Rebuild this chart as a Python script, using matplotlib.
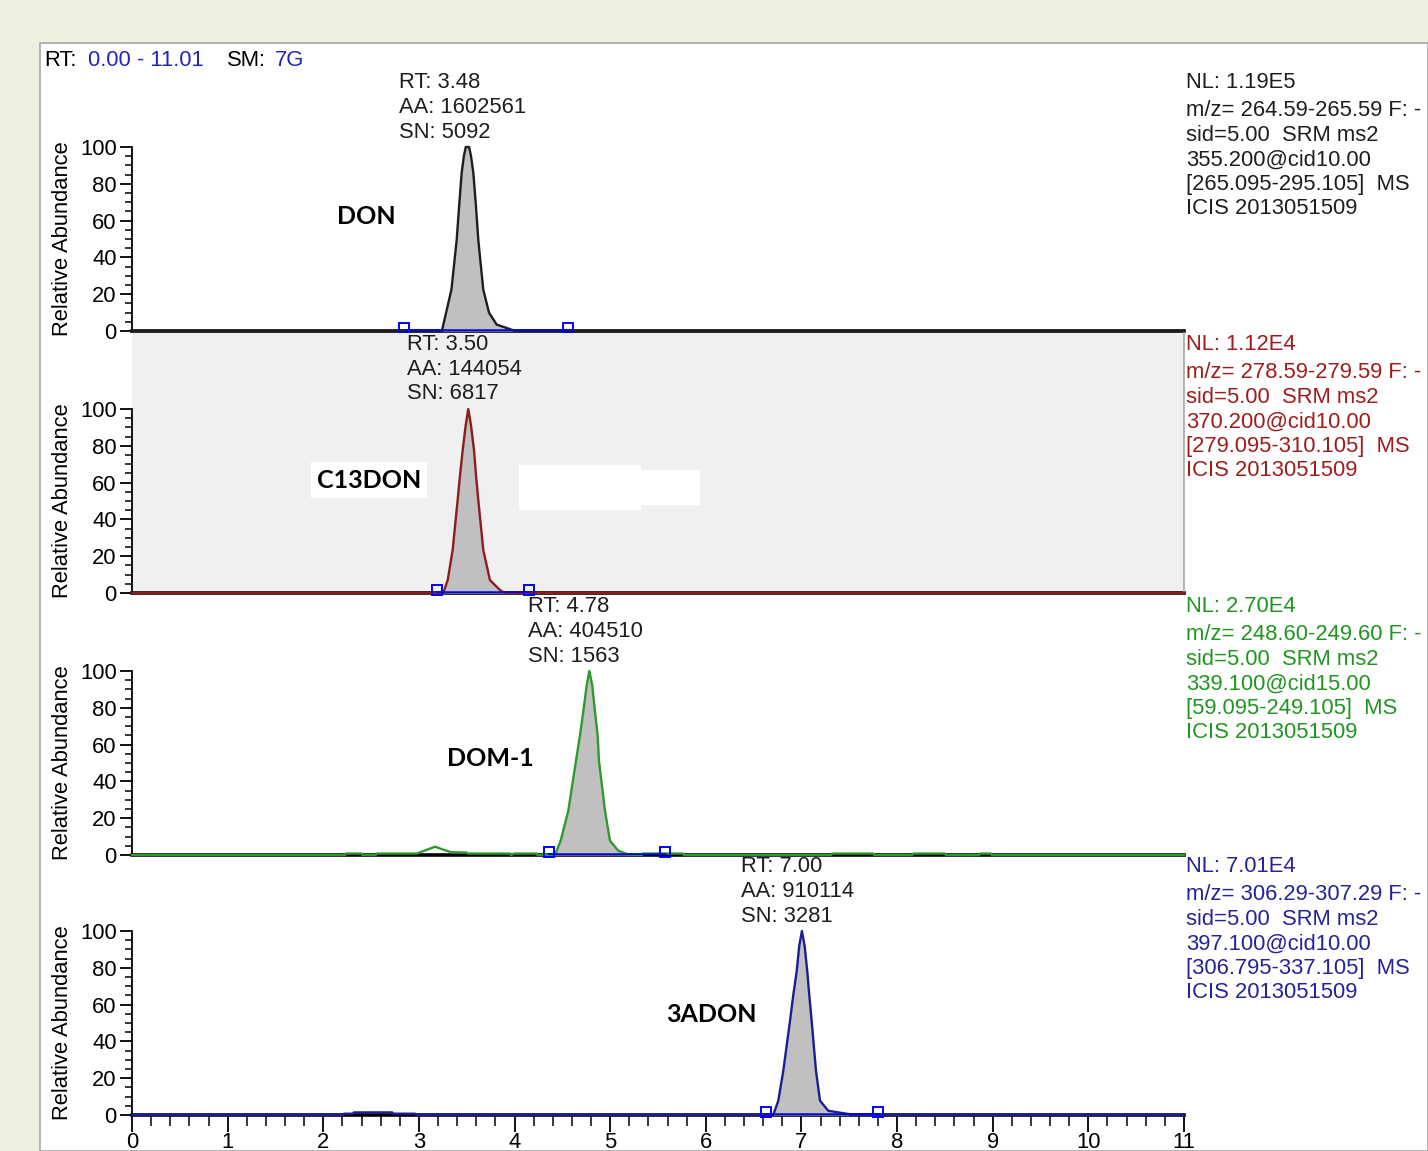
import matplotlib
matplotlib.use('Agg')
import matplotlib.pyplot as plt
import matplotlib.transforms as mtransforms
from matplotlib.patches import Rectangle
from matplotlib.ticker import FixedLocator, MultipleLocator

plt.rcParams['font.family'] = ['Liberation Sans', 'DejaVu Sans']

W, H = 1428, 1151

# --- chromatogram traces (retention time in min, relative abundance in %) ---
don_t = [0, 3.24, 3.26, 3.34, 3.395, 3.42, 3.447, 3.47, 3.49, 3.525, 3.545, 3.569,
         3.597, 3.621, 3.673, 3.733, 3.813, 3.98, 4.00, 11.0]
don_y = [0, 0, 4.5, 22.5, 49.5, 67.5, 86, 95, 100, 100, 95, 86,
         67.5, 49.5, 22.5, 10, 3.5, 0.5, 0, 0]

c13_t = [0, 3.255, 3.301, 3.353, 3.405, 3.43, 3.458, 3.489, 3.516, 3.545, 3.576,
         3.597, 3.621, 3.673, 3.743, 3.848, 3.90, 11.0]
c13_y = [0, 0, 7, 23.4, 50.5, 64, 77.7, 91, 100, 91, 77.7,
         64, 50.5, 23.4, 7, 1.6, 0, 0]

dom_t = [0, 2.23, 2.24, 2.40, 2.41, 2.55, 2.56, 2.66, 2.70, 2.98, 3.08, 3.17, 3.26, 3.34,
         3.50, 3.51, 3.95, 3.96, 4.00, 4.23, 4.24, 4.423, 4.482, 4.562, 4.642, 4.684,
         4.719, 4.754, 4.782, 4.813, 4.841, 4.869, 4.883, 4.946, 4.998, 5.085, 5.19,
         5.33, 5.34, 5.76, 5.77, 7.31, 7.32, 7.75, 7.76, 8.16, 8.17, 8.50, 8.51, 8.86,
         8.87, 8.98, 8.99, 11.0]
dom_y = [0, 0, 0.8, 0.8, 0, 0, 0.8, 0.8, 0.8, 0.8, 2.8, 4.5, 2.8, 1.5,
         1.3, 0.8, 0.8, 0, 0.8, 0.8, 0, 0, 7.8, 24, 51, 65,
         78, 92, 100, 92, 78, 65, 51, 24, 7.8, 2.3, 0.3,
         0, 0.8, 0.8, 0, 0, 0.8, 0.8, 0, 0, 0.8, 0.8, 0, 0,
         0.8, 0.8, 0, 0]

adon_t = [0, 2.21, 2.22, 2.31, 2.32, 2.72, 2.73, 2.96, 2.97, 6.705, 6.758, 6.81, 6.88,
          6.914, 6.95, 6.977, 7.005, 7.033, 7.061, 7.082, 7.107, 7.152, 7.194, 7.28,
          7.507, 7.52, 11.0]
adon_y = [0, 0, 0.7, 0.7, 1.4, 1.4, 0.7, 0.7, 0, 0, 7.8, 24, 51,
          65, 78, 92, 100, 92, 78, 65, 51, 24, 7.8, 2.3,
          0.4, 0, 0]

traces_t = [don_t, c13_t, dom_t, adon_t]
traces_y = [don_y, c13_y, dom_y, adon_y]

# integration window (start, end) per trace
peak_start = [2.84, 3.19, 4.36, 6.63]
peak_end = [4.56, 4.15, 5.57, 7.80]

compounds = ['DON', 'C13DON', 'DOM-1', '3ADON']
rt_vals = ['3.48', '3.50', '4.78', '7.00']
aa_vals = ['1602561', '144054', '404510', '910114']
sn_vals = ['5092', '6817', '1563', '3281']

nl_vals = ['1.19E5', '1.12E4', '2.70E4', '7.01E4']
mz_ranges = ['264.59-265.59', '278.59-279.59', '248.60-249.60', '306.29-307.29']
parents = ['355.200@cid10.00', '370.200@cid10.00', '339.100@cid15.00', '397.100@cid10.00']
scan_ranges = ['[265.095-295.105]', '[279.095-310.105]', '[59.095-249.105]', '[306.795-337.105]']

line_colors = ['#1e1e1e', '#8e1c1c', '#2e9a2e', '#1c1c96']
text_colors = ['#1e1e1e', '#a01c1c', '#1f961f', '#23239a']

FS = 15.8
blue = '#2525b5'

fig = plt.figure(figsize=(W / 100, H / 100), dpi=100, facecolor='#eef0e0')
fig.add_artist(Rectangle((40 / W, 0), (W - 40) / W, (H - 43) / H, transform=fig.transFigure,
                         facecolor='white', edgecolor='#a8a8a8', lw=1.2, zorder=-5))

# header
hdr_y = 1 - 60 / H
for x, s, c in [(44, 'RT:', 'black'), (88, '0.00 - 11.01', blue),
                (227, 'SM:', 'black'), (275, '7G', blue)]:
    fig.text(x / W, hdr_y, s, color=c, fontsize=FS, ha='left', va='center')

base_px = [331, 593, 855, 1115]
px_per_unit = 1.84
label_x = [399, 407, 528, 741]
name_pos = [(366, 217), (369, 480), (490, 758), (711, 1014)]

for i in range(4):
    b = base_px[i]
    ax = fig.add_axes([132 / W, 1 - b / H, 1052 / W, 260 / H])
    ax.set_xlim(0, 11.0)
    ax.set_ylim(0, 260 / px_per_unit)
    if i == 1:
        ax.set_facecolor('#f0f0f0')
        ax.spines['right'].set_color('#a8a8a8')
        ax.spines['right'].set_linewidth(1.2)
    else:
        ax.patch.set_alpha(0)
        ax.spines['right'].set_visible(False)
    ax.spines['top'].set_visible(False)
    ax.spines['left'].set_bounds(0, 100)
    ax.spines['left'].set_linewidth(1.3)
    ax.spines['bottom'].set_linewidth(2.6)
    ax.spines['bottom'].set_zorder(1)

    ax.yaxis.set_major_locator(FixedLocator(list(range(0, 101, 20))))
    ax.yaxis.set_minor_locator(FixedLocator(list(range(0, 101, 5))))
    ax.tick_params(axis='y', which='major', direction='out', length=9, width=1.3,
                   labelsize=FS, pad=2)
    ax.tick_params(axis='y', which='minor', direction='out', length=5, width=1.1)

    if i == 3:
        ax.xaxis.set_major_locator(MultipleLocator(1))
        ax.xaxis.set_minor_locator(MultipleLocator(0.2))
        ax.tick_params(axis='x', which='major', direction='out', length=12, width=1.3,
                       labelsize=FS, pad=0)
        ax.tick_params(axis='x', which='minor', direction='out', length=8, width=1.1)
    else:
        ax.tick_params(axis='x', which='both', bottom=False, labelbottom=False)

    t = traces_t[i]
    y = traces_y[i]
    s, e = peak_start[i], peak_end[i]
    ax.fill_between(t, y, 0, where=[s <= v <= e for v in t], color='#c0c0c0',
                    linewidth=0, zorder=2)
    ax.plot(t, y, color=line_colors[i], lw=1.7, zorder=3, clip_on=False)
    ax.plot([s, e], [0.3, 0.3], color='#0000ff', lw=1.8, zorder=4)
    ax.plot([s, e], [1.6, 1.6], 's', mfc='none', mec='#0000ff', ms=7, mew=1.4,
            zorder=5, clip_on=False)

    # y label
    trans = mtransforms.blended_transform_factory(fig.transFigure, ax.transData)
    ax.text(62 / W, 50, 'Relative Abundance', transform=trans, rotation=90,
            ha='center', va='center', fontsize=FS)

    # peak annotation
    lx = (label_x[i] - 132) / 95.64
    for k, txt in enumerate([f'RT: {rt_vals[i]}', f'AA: {aa_vals[i]}', f'SN: {sn_vals[i]}']):
        ax.text(lx, (248 - 24.5 * k) / px_per_unit, txt, ha='left', va='center',
                fontsize=FS, color='#1e1e1e', clip_on=False)

    # compound name
    nx, ny = name_pos[i]
    bbox = dict(boxstyle='square,pad=0.25', fc='white', ec='none') if i == 1 else None
    fig.text(nx / W, 1 - ny / H, compounds[i], fontsize=18, fontweight='bold',
             family=['Lato', 'DejaVu Sans'], ha='center', va='center', bbox=bbox)

    # right info block
    top = b - 248
    lines = [f'NL: {nl_vals[i]}', f'm/z= {mz_ranges[i]} F: -', 'sid=5.00  SRM ms2',
             parents[i], f'{scan_ranges[i]}  MS', 'ICIS 2013051509']
    offs = [0, 28, 52.5, 77, 101.5, 126]
    for txt, o in zip(lines, offs):
        fig.text(1186 / W, 1 - (top + o) / H, txt, ha='left', va='center',
                 fontsize=FS, color=text_colors[i])

    if i == 1:
        # blanked-out regions in the original screenshot
        ax.add_patch(Rectangle((4.046, 45.1), 1.276, 24.5, facecolor='white',
                               edgecolor='none', zorder=6))
        ax.add_patch(Rectangle((5.322, 47.8), 0.617, 19.0, facecolor='white',
                               edgecolor='none', zorder=6))

fig.savefig('out.png', dpi=100, facecolor=fig.get_facecolor())
